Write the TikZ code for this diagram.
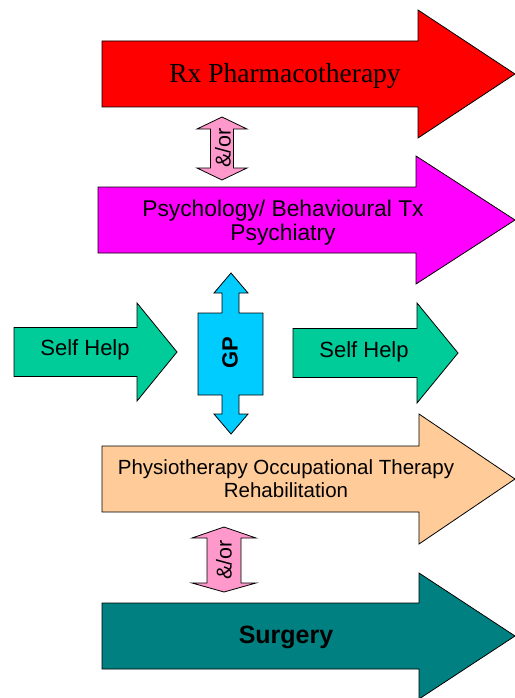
\documentclass[tikz,border=0pt]{standalone}
\usepackage{fontspec}
\setmainfont{Liberation Serif}
\setsansfont{Liberation Sans}
\definecolor{rxred}{HTML}{FF0000}
\definecolor{psymag}{HTML}{FF00FF}
\definecolor{andpink}{HTML}{FF99CC}
\definecolor{gpcyan}{HTML}{00CCFF}
\definecolor{selfgreen}{HTML}{00CC99}
\definecolor{physpeach}{HTML}{FFCC99}
\definecolor{surgteal}{HTML}{008080}
% block arrow pointing right:
% #1 fill, #2 left x, #3 head x, #4 tip x, #5 centre y, #6 body half height, #7 head half height
\newcommand\blockright[7]{%
  \draw[outline, fill=#1] ({#2},{#5-#6}) -- ({#3},{#5-#6}) -- ({#3},{#5-#7})
    -- ({#4},{#5}) -- ({#3},{#5+#7}) -- ({#3},{#5+#6}) -- ({#2},{#5+#6}) -- cycle;}
% vertical double-headed block arrow:
% #1 centre x, #2 top tip y, #3 upper bar y, #4 lower bar y, #5 bottom tip y, #6 body half width, #7 head half width
\newcommand\blockupdown[7]{%
  \draw[outline, fill=andpink] ({#1},{#2}) -- ({#1+#7},{#3}) -- ({#1+#6},{#3})
    -- ({#1+#6},{#4}) -- ({#1+#7},{#4}) -- ({#1},{#5}) -- ({#1-#7},{#4})
    -- ({#1-#6},{#4}) -- ({#1-#6},{#3}) -- ({#1-#7},{#3}) -- cycle;}
\begin{document}
\begin{tikzpicture}[x=1pt, y=-1pt,
  outline/.style={draw=black, line width=0.8pt, line join=miter},
  lbl/.style={font=\sffamily\fontsize{22}{25}\selectfont, align=center, inner sep=0pt},
  vlbl/.style={font=\sffamily\fontsize{21.5}{24}\selectfont, rotate=90, inner sep=0pt}]
\useasboundingbox[fill=white] (0,0) rectangle (514,698);

% main treatment arrows
\blockright{rxred}{102}{418}{515}{74}{33}{64}
\blockright{psymag}{98}{416}{515}{220}{33}{64}
\blockright{physpeach}{102}{419}{515}{479}{33}{65}
\blockright{surgteal}{102}{419}{515}{636}{33}{63}

% self help arrows
\blockright{selfgreen}{14}{137}{177}{352}{24.5}{49}
\blockright{selfgreen}{293}{417}{458}{353}{24.5}{50}

% "and/or" links
\blockupdown{222}{117}{129}{168}{180}{11.5}{25}
\blockupdown{224}{527}{538}{583}{592}{17}{32}

% GP box with up and down arrows
\draw[outline, fill=gpcyan] (231,273) -- (248,293) -- (239,293) -- (239,313)
  -- (263,313) -- (263,395) -- (239,395) -- (239,414) -- (248,414) -- (231,434)
  -- (214,414) -- (222,414) -- (222,395) -- (198,395) -- (198,313) -- (222,313)
  -- (222,293) -- (214,293) -- cycle;

% labels
\node[inner sep=0pt, font=\rmfamily\fontsize{27.5}{32}\selectfont] (rx) at (285,76) {Rx Pharmacotherapy};
\node[lbl, font=\sffamily\fontsize{22.8}{24}\selectfont] (psy) at (283,223) {Psychology/ Behavioural Tx\\Psychiatry};
\node[lbl, font=\sffamily\fontsize{20.5}{23}\selectfont] (phys) at (286,479) {Physiotherapy Occupational Therapy\\Rehabilitation};
\node[inner sep=0pt, font=\sffamily\bfseries\fontsize{25}{30}\selectfont] (surg) at (286,637) {Surgery};
\node[lbl] (selfL) at (85,350) {Self Help};
\node[lbl] (selfR) at (364,352) {Self Help};
\node[vlbl, font=\sffamily\bfseries\fontsize{22}{24}\selectfont] (gp) at (230,353) {GP};
\node[vlbl] (andor1) at (223,148) {\&/or};
\node[vlbl] (andor2) at (224,560) {\&/or};
\end{tikzpicture}
\end{document}
